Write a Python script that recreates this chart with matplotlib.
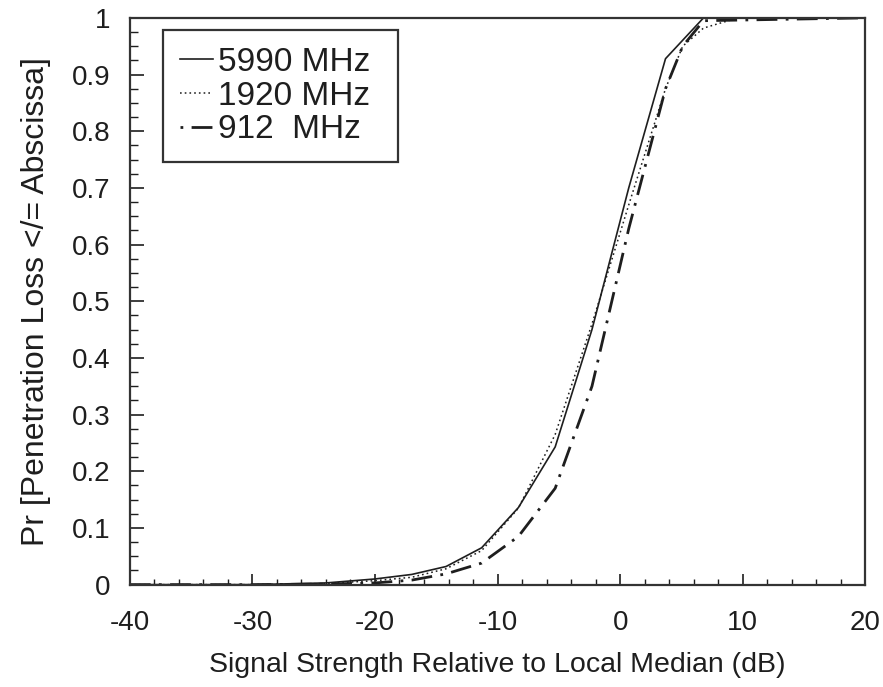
import matplotlib
matplotlib.use("Agg")
import matplotlib.pyplot as plt
from matplotlib.ticker import MultipleLocator, FixedFormatter, FixedLocator

plt.rcParams['font.family'] = ['Liberation Sans', 'DejaVu Sans']
plt.rcParams['lines.scale_dashes'] = False
plt.rcParams['axes.unicode_minus'] = False

# curves (signal level in dB, cumulative probability)
x_5990 = [-40, -30, -24, -20, -17, -14.2, -11.3, -8.3, -5.3, -2.3, 0.7, 3.7, 6.8, 20]
p_5990 = [0.0, 0.0, 0.003, 0.01, 0.018, 0.032, 0.065, 0.136, 0.243, 0.45, 0.70, 0.928, 1.0, 1.0]

x_1920 = [-40, -30, -24, -20, -17, -14.2, -11.3, -8.3, -5.3, -2.3, 0.7, 3.7, 5.1, 6.8, 9.6, 20]
p_1920 = [0.0, 0.0, 0.002, 0.007, 0.013, 0.028, 0.06, 0.135, 0.265, 0.46, 0.67, 0.875, 0.95, 0.982, 1.0, 1.0]

x_912 = [-40, -30, -24, -20, -17, -14.2, -11.3, -8.3, -5.3, -2.3, 0.7, 3.7, 5.1, 6.8, 20]
p_912 = [0.0, 0.0, 0.001, 0.003, 0.008, 0.019, 0.038, 0.085, 0.17, 0.35, 0.628, 0.875, 0.95, 0.995, 1.0]

y_ticks = [0, 0.1, 0.2, 0.3, 0.4, 0.5, 0.6, 0.7, 0.8, 0.9, 1]
y_tick_labels = ['0', '0.1', '0.2', '0.3', '0.4', '0.5', '0.6', '0.7', '0.8', '0.9', '1']

ink = '#1e1e1e'

fig = plt.figure(figsize=(8.83, 6.87), dpi=100)
ax = fig.add_axes([0.147, 0.149, 0.833, 0.825])

ax.plot(x_5990, p_5990, color=ink, lw=1.2, label='5990 MHz')
ax.plot(x_1920, p_1920, color=ink, lw=1.1, linestyle=(0, (1.2, 2.2)), label='1920 MHz')
ax.plot(x_912, p_912, color=ink, lw=2.0, linestyle=(0, (15, 6, 2, 6)), label='912  MHz')

ax.set_xlim(-40, 20)
ax.set_ylim(0, 1)

ax.xaxis.set_major_locator(MultipleLocator(10))
ax.xaxis.set_minor_locator(MultipleLocator(2))
ax.yaxis.set_major_locator(FixedLocator(y_ticks))
ax.yaxis.set_major_formatter(FixedFormatter(y_tick_labels))
ax.yaxis.set_minor_locator(MultipleLocator(0.025))

ax.tick_params(axis='x', which='major', direction='in', length=8, width=1.2,
               labelsize=20, pad=18, colors=ink)
ax.tick_params(axis='x', which='minor', direction='in', length=4.5, width=1.0, colors=ink)
ax.tick_params(axis='y', which='major', direction='in', length=10, width=1.2,
               labelsize=20, pad=14, colors=ink)
ax.tick_params(axis='y', which='minor', direction='in', length=5.5, width=1.0, colors=ink)

for key, spine in ax.spines.items():
    spine.set_linewidth(1.6)
    spine.set_color('#333333')

ax.set_xlabel('Signal Strength Relative to Local Median (dB)', fontsize=20.5, color=ink, labelpad=12)
ax.set_ylabel('Pr [Penetration Loss </= Abscissa]', fontsize=23, color=ink, labelpad=15)

leg = ax.legend(loc='upper left', bbox_to_anchor=(0.045, 0.978, 0.32, 0.0), mode='expand',
                fontsize=24, handlelength=1.0, handletextpad=0.15, labelspacing=0.08,
                borderpad=0.5, borderaxespad=0, fancybox=False, framealpha=1)
leg.get_frame().set_edgecolor('#333333')
leg.get_frame().set_linewidth(1.6)
for t in leg.get_texts():
    t.set_color(ink)
# dash-dot sample starts on its dot, as in the original key
leg.get_lines()[2].set_linestyle((21, (15, 6, 2, 6)))

fig.savefig('out.png', dpi=100)
